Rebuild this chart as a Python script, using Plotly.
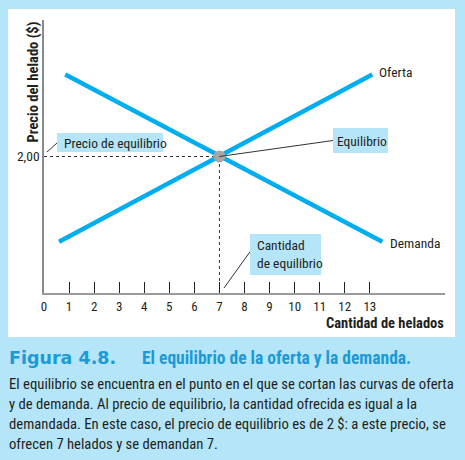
import plotly.graph_objects as go

# ---- data ----
supply_x = [0.6, 13.1]
supply_y = [0.75, 3.2]
demand_x = [0.85, 13.5]
demand_y = [3.2, 0.75]
eq_x = [7]
eq_y = [2]
x_tick_vals = [0, 1, 2, 3, 4, 5, 6, 7, 8, 9, 10, 11, 12, 13]
x_tick_text = ["0", "1", "2", "3", "4", "5", "6", "7", "8", "9", "10", "11", "12", "13"]
y_tick_vals = [2]
y_tick_text = ["2,00"]

BG = "#b4e5f8"
LINE = "#00aeef"
CAP = "#1b9ad6"
TXT = "#231f20"
NARROW = "Roboto Condensed, Roboto, sans-serif"

W, H = 465, 460
L, R, T, B = 44, 20, 20, 167
XMAX, YMAX = 16.0, 4.0
pw, ph = W - L - R, H - T - B


def X(px):
    return (px - L) / pw * XMAX


def Y(py):
    return (T + ph - py) / ph * YMAX


def PX(px):
    return (px - L) / pw


def PY(py):
    return (T + ph - py) / ph


fig = go.Figure()
fig.add_trace(go.Scatter(x=[0, eq_x[0]], y=[eq_y[0], eq_y[0]], mode="lines",
                         line=dict(color="#333333", width=1, dash="dot"), hoverinfo="skip"))
fig.add_trace(go.Scatter(x=[eq_x[0], eq_x[0]], y=[0, eq_y[0]], mode="lines",
                         line=dict(color="#333333", width=1, dash="dot"), hoverinfo="skip"))
fig.add_trace(go.Scatter(x=supply_x, y=supply_y, mode="lines",
                         line=dict(color=LINE, width=4.5)))
fig.add_trace(go.Scatter(x=demand_x, y=demand_y, mode="lines",
                         line=dict(color=LINE, width=4.5)))
fig.add_trace(go.Scatter(x=eq_x, y=eq_y, mode="markers",
                         marker=dict(color="#a6a6a6", size=12, line=dict(width=0))))


def box(x0, x1, y0, y1):
    return dict(type="rect", xref="x", yref="y", x0=X(x0), x1=X(x1), y0=Y(y1), y1=Y(y0),
                fillcolor=BG, line=dict(width=0), layer="above")


def seg(x0, y0, x1, y1):
    return dict(type="line", xref="x", yref="y", x0=X(x0), y0=Y(y0), x1=X(x1), y1=Y(y1),
                line=dict(color="#333333", width=1))


shapes = [
    # white panel
    dict(type="rect", xref="paper", yref="paper", x0=PX(8), x1=PX(455), y0=PY(337), y1=PY(9),
         fillcolor="white", line=dict(width=0), layer="below"),
    # leader lines
    seg(47, 152, 57, 143),
    dict(type="line", xref="x", yref="y", x0=eq_x[0], y0=eq_y[0], x1=X(333), y1=Y(140.5),
         line=dict(color="#333333", width=1)),
    seg(224, 288, 252, 249),
    # label boxes
    box(57, 163, 133, 152),
    box(333, 388, 128, 153),
    box(250, 321, 234, 275),
]

lab = dict(family=NARROW, size=13.5, color=TXT)
ann = []
ann.append(dict(text="Precio de equilibrio", x=X(62), y=Y(142.5), xref="x", yref="y",
                xanchor="left", yanchor="middle", showarrow=False, font=lab))
ann.append(dict(text="Equilibrio", x=X(334.5), y=Y(140.5), xref="x", yref="y",
                xanchor="left", yanchor="middle", showarrow=False, font=lab))
ann.append(dict(text="Cantidad", x=X(255), y=Y(245), xref="x", yref="y",
                xanchor="left", yanchor="middle", showarrow=False, font=lab))
ann.append(dict(text="de equilibrio", x=X(255), y=Y(263), xref="x", yref="y",
                xanchor="left", yanchor="middle", showarrow=False, font=lab))
ann.append(dict(text="Oferta", x=X(377), y=Y(72), xref="x", yref="y", xanchor="left",
                showarrow=False, font=lab))
ann.append(dict(text="Demanda", x=X(388), y=Y(243), xref="x", yref="y", xanchor="left",
                showarrow=False, font=lab))
ann.append(dict(text="<b>Precio del helado ($)</b>", x=PX(33), y=PY(20), xref="paper", yref="paper",
                xanchor="center", yanchor="top", textangle=-90, showarrow=False,
                font=dict(family=NARROW, size=14.5, color=TXT)))
ann.append(dict(text="<b>Cantidad de helados</b>", x=PX(446), y=PY(323), xref="paper", yref="paper",
                xanchor="right", yanchor="middle", showarrow=False,
                font=dict(family=NARROW, size=14.5, color=TXT)))
# caption
ann.append(dict(text="<b>Figura 4.8.</b>", x=PX(7), y=PY(358), xref="paper", yref="paper",
                xanchor="left", yanchor="middle", showarrow=False,
                font=dict(family="DejaVu Sans", size=17.5, color=CAP)))
ann.append(dict(text="<b>El equilibrio de la oferta y la demanda.</b>", x=PX(140), y=PY(358),
                xref="paper", yref="paper", xanchor="left", yanchor="middle", showarrow=False,
                font=dict(family=NARROW, size=17.5, color=CAP)))
body = ["El equilibrio se encuentra en el punto en el que se cortan las curvas de oferta",
        "y de demanda. Al precio de equilibrio, la cantidad ofrecida es igual a la",
        "demandada. En este caso, el precio de equilibrio es de 2 $: a este precio, se",
        "ofrecen 7 helados y se demandan 7."]
for i, line in enumerate(body):
    ann.append(dict(text=line, x=PX(7), y=PY(384 + 20 * i), xref="paper", yref="paper",
                    xanchor="left", yanchor="middle", showarrow=False,
                    font=dict(family=NARROW, size=14.7, color=TXT)))

fig.update_layout(
    width=W, height=H, margin=dict(l=L, r=R, t=T, b=B),
    paper_bgcolor=BG, plot_bgcolor="white", showlegend=False,
    shapes=shapes, annotations=ann,
    xaxis=dict(range=[0, XMAX], showgrid=False, zeroline=False, showline=True,
               linecolor="#9a9a9a", linewidth=2, ticks="inside", ticklen=11, tickwidth=1,
               tickcolor="#222222", tickvals=x_tick_vals, ticktext=x_tick_text,
               ticklabelstandoff=0,
               tickfont=dict(family=NARROW, size=13, color=TXT), fixedrange=True),
    yaxis=dict(range=[0, YMAX], showgrid=False, zeroline=False, showline=True,
               linecolor="#8a8a8a", linewidth=1.5, ticks="", tickvals=y_tick_vals,
               ticktext=y_tick_text, tickfont=dict(family=NARROW, size=13.5, color=TXT),
               fixedrange=True),
)

fig.write_html("out.html", config={"displayModeBar": False},
               post_script="document.body.style.margin='0';")
